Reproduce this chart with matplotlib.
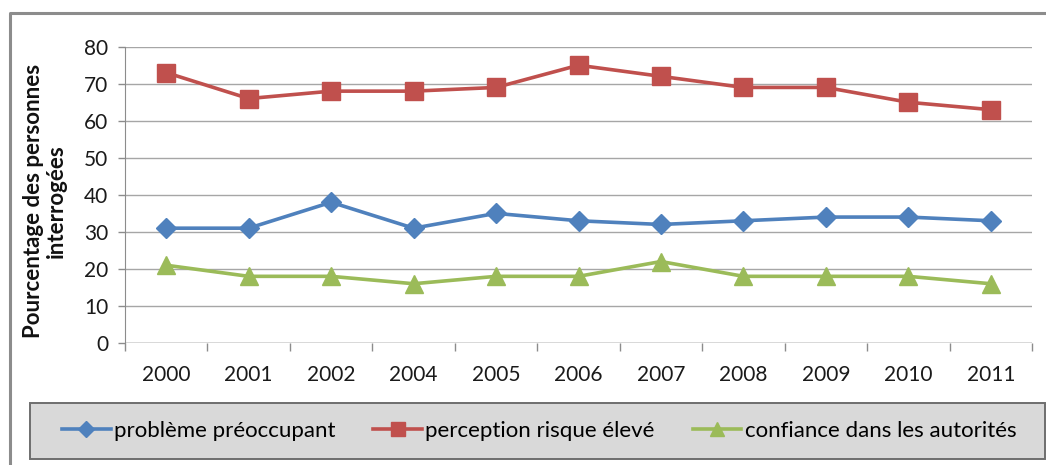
import matplotlib.pyplot as plt
import numpy as np
from matplotlib.patches import Rectangle
from matplotlib.lines import Line2D

years = ['2000', '2001', '2002', '2004', '2005', '2006', '2007', '2008', '2009', '2010', '2011']
probleme = [31, 31, 38, 31, 35, 33, 32, 33, 34, 34, 33]
risque = [73, 66, 68, 68, 69, 75, 72, 69, 69, 65, 63]
confiance = [21, 18, 18, 16, 18, 18, 22, 18, 18, 18, 16]
labels = ['problème préoccupant', 'perception risque élevé', 'confiance dans les autorités']

plt.rcParams['font.family'] = ['Lato', 'DejaVu Sans']

W, H = 1046, 465
fig = plt.figure(figsize=(W / 100, H / 100), dpi=100)

# outer chart border (only top and left visible)
fig.add_artist(Line2D([10 / W, 10 / W, 1.0], [0.0, 1 - 13 / H, 1 - 13 / H],
                      color='#8c8c8c', lw=2.2, transform=fig.transFigure))

ax_w = 1032 - 125
ax = fig.add_axes([125 / W, 1 - 343 / H, ax_w / W, (343 - 46.7) / H])
x = np.arange(len(years))

ax.plot(x, probleme, color='#4F81BD', lw=2.6, marker='D', ms=10, label=labels[0], zorder=3)
ax.plot(x, risque, color='#C0504D', lw=2.6, marker='s', ms=13, label=labels[1], zorder=3)
ax.plot(x, confiance, color='#9BBB59', lw=2.6, marker='^', ms=13, label=labels[2], zorder=3)

ax.set_xlim(-0.5, len(years) - 0.5)
ax.set_ylim(0, 80)
ax.set_yticks(np.arange(0, 81, 10))
ax.set_xticks(x)
ax.set_xticklabels(years)
ax.set_xticks(np.arange(-0.5, len(years)), minor=True)
ax.tick_params(axis='x', which='major', length=0, pad=16, labelsize=15, colors='#1a1a1a')
ax.tick_params(axis='x', which='minor', length=6, color='#8c8c8c', width=1)
ax.tick_params(axis='y', length=5, color='#8c8c8c', width=1, pad=7, labelsize=15, colors='#1a1a1a')
ax.yaxis.grid(True, color='#a6a6a6', lw=1)
ax.set_axisbelow(True)
for s in ['top', 'right', 'bottom']:
    ax.spines[s].set_visible(False)
ax.spines['left'].set_color('#8c8c8c')
ax.axhline(0, color='#8c8c8c', lw=1, zorder=2)

ax.set_ylabel('Pourcentage des personnes\ninterrogées', fontsize=16, fontweight='bold',
              linespacing=1.1, color='#111111')
ax.yaxis.set_label_coords(-(125 - 67) / ax_w, 0.48)

# legend box
fig.add_artist(Rectangle((30 / W, 1 - 459 / H), (1045 - 30) / W, (459 - 403) / H,
                         transform=fig.transFigure, facecolor='#d9d9d9',
                         edgecolor='#6e6e6e', lw=1.4))
handles, lbls = ax.get_legend_handles_labels()
fig.legend(handles, lbls, loc='center', bbox_to_anchor=(539 / W, 1 - 431 / H), ncol=3,
           frameon=False, fontsize=16, handlelength=2.2, handletextpad=0.15,
           columnspacing=1.7, markerscale=0.8)

fig.savefig('out.png', dpi=100)
